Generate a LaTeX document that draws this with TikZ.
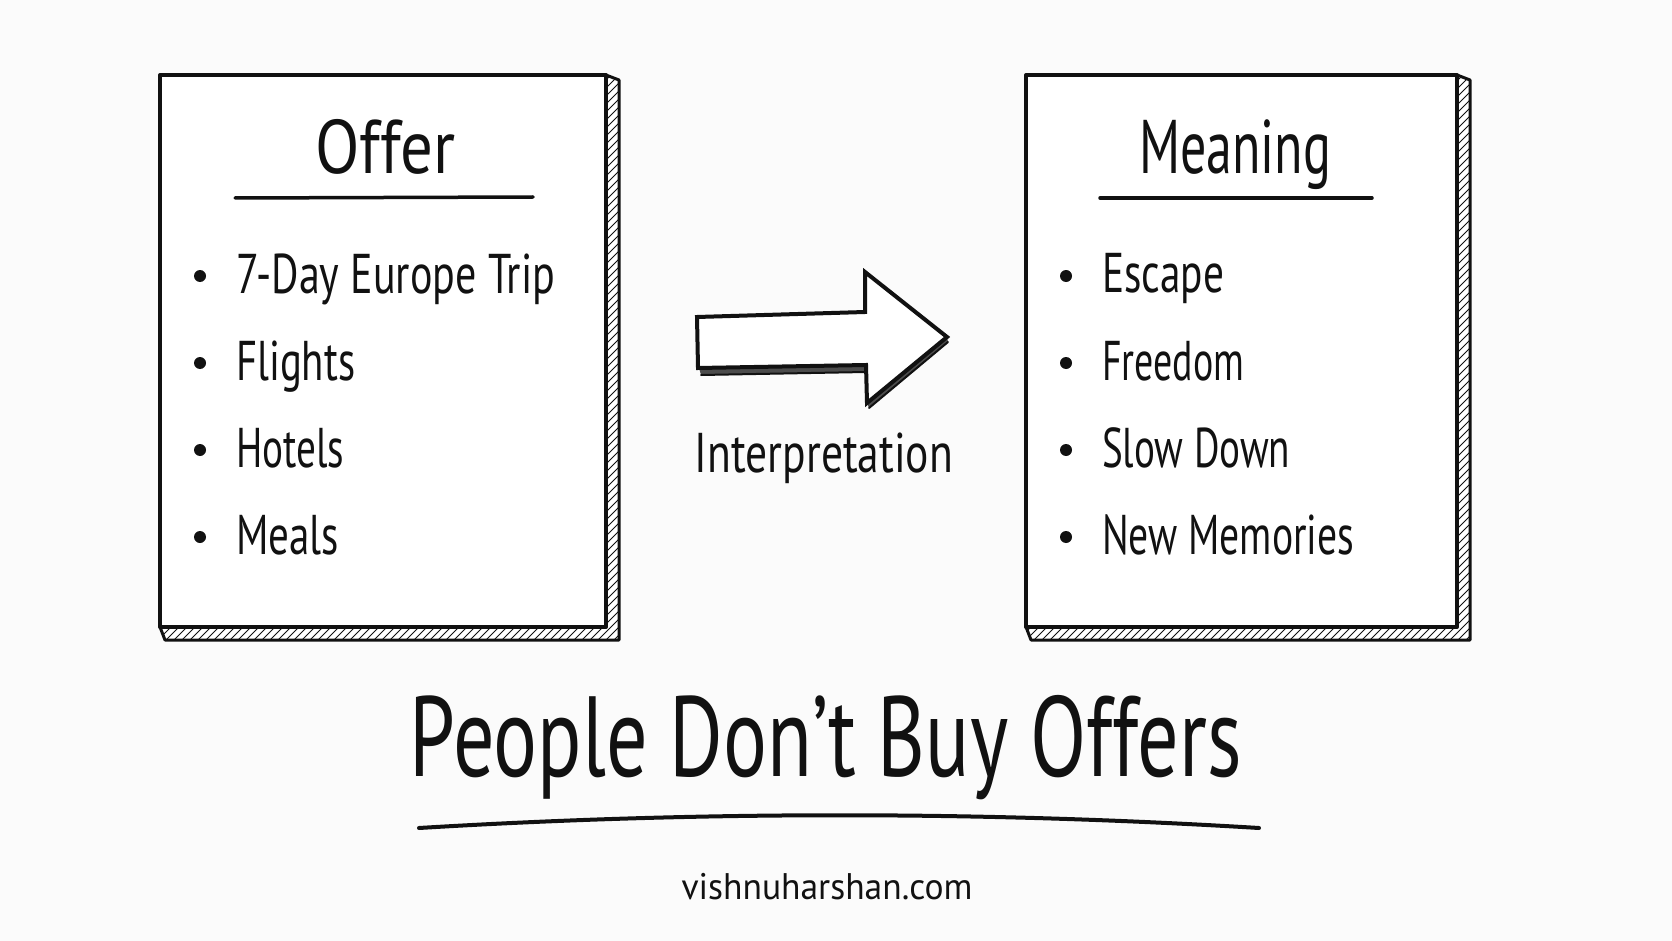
\documentclass[tikz,border=0pt]{standalone}
\usepackage{fontspec}
\setmainfont{PT Sans}
\usepackage{graphicx}
\definecolor{bgc}{RGB}{251,251,251}
\definecolor{inkc}{RGB}{17,17,17}
\newcommand{\fitw}[2]{\resizebox{#1}{\height}{#2}}
\begin{document}
\begin{tikzpicture}[x=1pt,y=-1pt,
  ink/.style={draw=inkc, line width=4pt, line join=round, line cap=round},
  face/.style={ink, fill=white, rectangle, inner sep=0pt},
  strip/.style={draw=inkc, line width=3pt, line join=round},
  hatch/.style={draw=inkc, line width=1pt},
  item/.style={anchor=base west, inner sep=0pt, text=inkc, font=\fontsize{56}{60}\selectfont},
  head/.style={anchor=base, inner sep=0pt, text=inkc, font=\fontsize{76}{80}\selectfont},
  dot/.style={circle, fill=inkc, inner sep=0pt, minimum size=12pt},
  rule/.style={draw=inkc, line width=3.5pt, line cap=round}]
\fill[bgc] (0,0) rectangle (1672,941);
\useasboundingbox (0,0) rectangle (1672,941);

% ---- left box depth
\begin{scope}
  \clip (606,75) -- (619,80) -- (619,640) -- (165,640) -- (160,627) -- (606,627) -- cycle;
  \fill[white] (150,60) rectangle (630,650);
  \foreach \c in {230,238,...,1270} \draw[hatch] (\c-650,650) -- (\c-60,60);
\end{scope}
\draw[strip] (606,75) -- (619,80) -- (619,640) -- (165,640) -- (160,627);
\node[face, minimum width=446pt, minimum height=552pt] (offerbox) at (383,351) {};

% ---- right box depth
\begin{scope}
  \clip (1457,75) -- (1470,80) -- (1470,640) -- (1031,640) -- (1026,627) -- (1457,627) -- cycle;
  \fill[white] (1010,60) rectangle (1480,650);
  \foreach \c in {1090,1098,...,2120} \draw[hatch] (\c-650,650) -- (\c-60,60);
\end{scope}
\draw[strip] (1457,75) -- (1470,80) -- (1470,640) -- (1031,640) -- (1026,627);
\node[face, minimum width=431pt, minimum height=552pt] (meanbox) at (1241.5,351) {};

% ---- titles
\node[head] (offertitle) at (385,174) {\fitw{140pt}{Offer}};
\draw[rule] (235,198) -- (533,197);
\node[head] (meantitle) at (1235,174) {\fitw{192pt}{Meaning}};
\draw[rule] (1100,198) -- (1372,198);

% ---- left items
\node[dot] (ob1) at (200,276) {};
\node[dot] (ob2) at (200,363) {};
\node[dot] (ob3) at (200,450) {};
\node[dot] (ob4) at (200,537) {};
\node[item] (o1) at (236,293) {\fitw{319pt}{7-Day Europe Trip}};
\node[item] (o2) at (236,380) {\fitw{119pt}{Flights}};
\node[item] (o3) at (236,467) {\fitw{108pt}{Hotels}};
\node[item] (o4) at (236,554) {\fitw{103pt}{Meals}};

% ---- right items
\node[dot] (mb1) at (1066,276) {};
\node[dot] (mb2) at (1066,363) {};
\node[dot] (mb3) at (1066,450) {};
\node[dot] (mb4) at (1066,537) {};
\node[item] (m1) at (1102,293) {\fitw{122pt}{Escape}};
\node[item] (m2) at (1102,380) {\fitw{142pt}{Freedom}};
\node[item] (m3) at (1102,467) {\fitw{188pt}{Slow Down}};
\node[item] (m4) at (1102,554) {\fitw{252pt}{New Memories}};

% ---- arrow
\fill[inkc!75] (699,368) -- (866,365) -- (866,372) -- (701,375) -- cycle;
\fill[inkc!75] (867,403) -- (947,337) -- (948,342) -- (869,408) -- cycle;
\draw[ink, line width=2pt] (701,375) -- (866,372);
\draw[ink, line width=2pt] (869,408) -- (948,342);
\draw[ink, fill=white, line join=miter] (697,317) -- (865,312) -- (865,272) -- (947,337) -- (867,403) -- (866,365) -- (698,368) -- cycle;
\node[anchor=base, inner sep=0pt, text=inkc, font=\fontsize{56}{60}\selectfont] (interp) at (824,472) {\fitw{258pt}{Interpretation}};

% ---- headline
\node[anchor=base, inner sep=0pt, text=inkc, font=\fontsize{114}{120}\selectfont] (headline) at (826,776) {\fitw{832pt}{People Don’t Buy Offers}};
\draw[ink, line width=4pt] (419,828) .. controls (700,811) and (980,811) .. (1259,828);
\node[anchor=base, inner sep=0pt, text=inkc, font=\fontsize{37}{40}\selectfont] (site) at (827,899) {\fitw{291pt}{vishnuharshan.com}};
\end{tikzpicture}
\end{document}
